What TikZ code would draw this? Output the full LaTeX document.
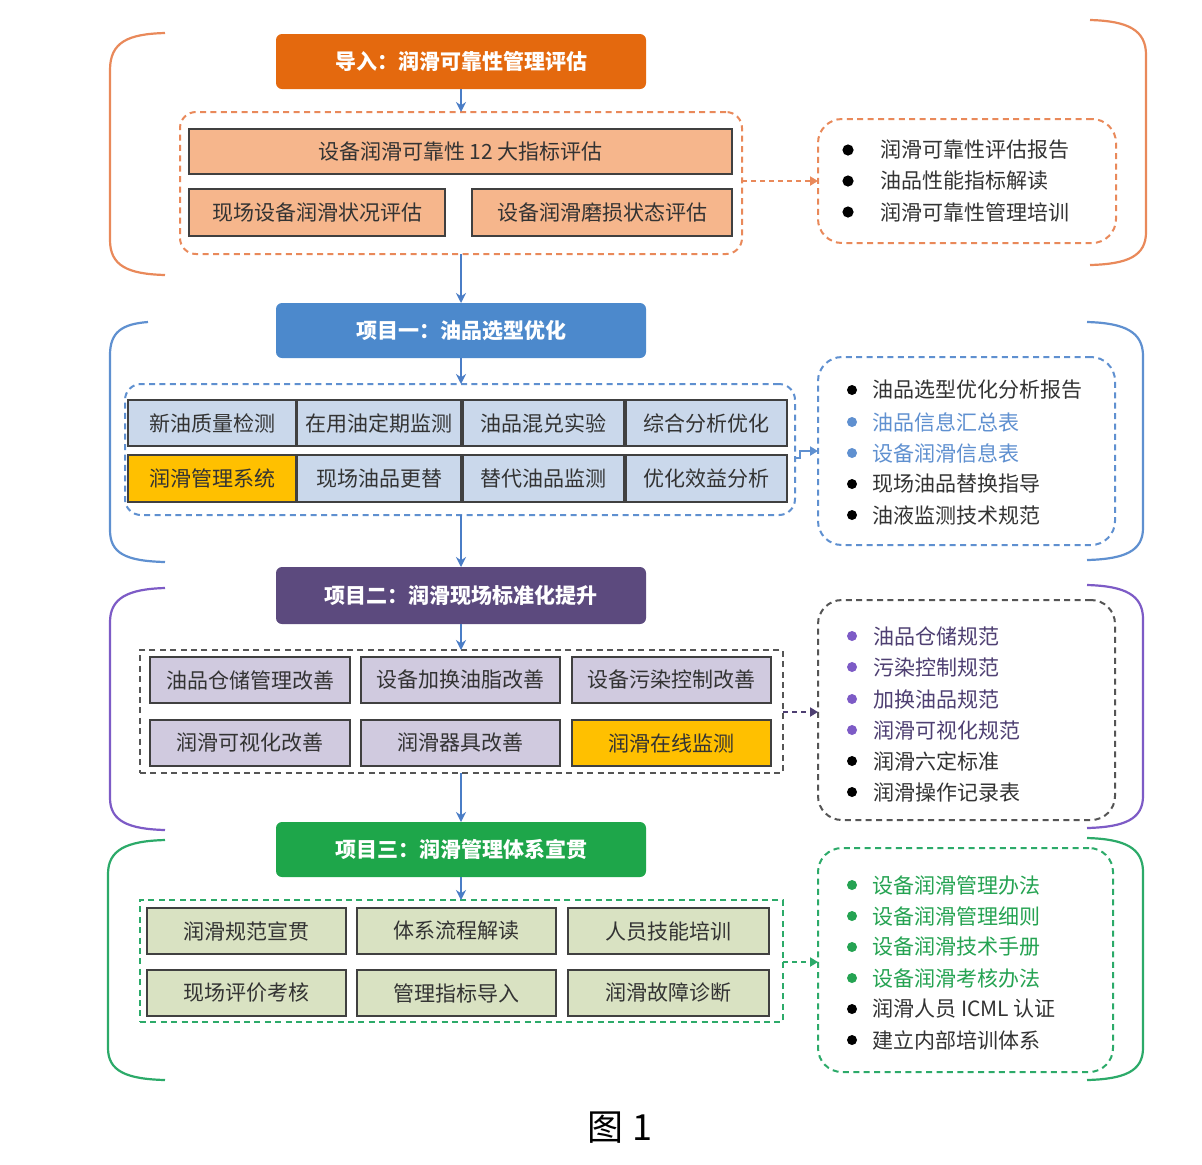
\documentclass[tikz,border=0pt]{standalone}
\usepackage{fontspec}
\setmainfont{Noto Sans CJK SC}
\usetikzlibrary{arrows.meta}
\definecolor{orT}{HTML}{E4690E}
\definecolor{orD}{HTML}{E9895A}
\definecolor{orF}{HTML}{F6B68C}
\definecolor{blT}{HTML}{4C89CC}
\definecolor{blD}{HTML}{5F90D0}
\definecolor{blF}{HTML}{CAD8EB}
\definecolor{puT}{HTML}{5C4A7E}
\definecolor{puB}{HTML}{7D5BC6}
\definecolor{puF}{HTML}{D0CADF}
\definecolor{puX}{HTML}{4E3F72}
\definecolor{grT}{HTML}{1EA64A}
\definecolor{grD}{HTML}{2CAA69}
\definecolor{grF}{HTML}{D9E2C2}
\definecolor{grX}{HTML}{25A352}
\definecolor{yel}{HTML}{FFC000}
\definecolor{arrB}{HTML}{4A7DC6}
\definecolor{bxL}{HTML}{404040}
\definecolor{txD}{HTML}{333333}
\definecolor{gyD}{HTML}{555555}
\newcommand\mybox[7]{\node[#6, minimum width={(#4-#2)*0.5pt}, minimum height={(#5-#3)*0.5pt}] (#1) at ({(#2+#4)/2},{(#3+#5)/2}) {#7};}
\begin{document}
\begin{tikzpicture}[x=0.5pt,y=-0.5pt,
  font=\fontsize{10.5}{12}\selectfont,
  title/.style={rounded corners=3pt, inner sep=0pt, outer sep=0pt, text=white, font=\fontsize{10.5}{12}\selectfont\bfseries},
  cont/.style={dash pattern=on 3pt off 2.2pt, line width=1pt, inner sep=0pt, outer sep=0pt},
  ibox/.style={draw=bxL, line width=0.8pt, inner sep=0pt, outer sep=0pt, text=txD},
  item/.style={anchor=west, inner sep=0pt, text=txD},
  brk/.style={line width=1.1pt},
  arr/.style={draw=arrB, line width=1.2pt, -{Stealth[length=5pt,width=5pt]}},
  darr/.style={line width=1pt, dash pattern=on 2.5pt off 2pt, -{Triangle[length=4pt,width=4.5pt]}}
]
\useasboundingbox (0,0) rectangle (1202,1164);
\fill[white] (0,0) rectangle (1202,1164);

% ---------- brackets ----------
\draw[brk, orD] (165,33) .. controls (128,34) and (110,42) .. (110,70) -- (110,240) .. controls (110,266) and (128,274) .. (165,275);
\draw[brk, orD] (1090,20) .. controls (1128,21) and (1146,30) .. (1146,55) -- (1146,232) .. controls (1146,256) and (1128,264) .. (1090,265);
\draw[brk, blD] (148,322) .. controls (122,324) and (110,332) .. (110,355) -- (110,530) .. controls (110,553) and (125,561) .. (165,562);
\draw[brk, blD] (1087,322) .. controls (1125,323) and (1143,332) .. (1143,356) -- (1143,528) .. controls (1143,551) and (1125,559) .. (1087,560);
\draw[brk, puB] (165,588) .. controls (128,589) and (110,598) .. (110,622) -- (110,798) .. controls (110,821) and (128,829) .. (165,830);
\draw[brk, puB] (1087,585) .. controls (1125,586) and (1143,595) .. (1143,619) -- (1143,796) .. controls (1143,819) and (1125,827) .. (1087,828);
\draw[brk, grD] (165,840) .. controls (126,841) and (108,850) .. (108,874) -- (108,1048) .. controls (108,1071) and (126,1079) .. (165,1080);
\draw[brk, grD] (1087,838) .. controls (1125,839) and (1143,848) .. (1143,872) -- (1143,1048) .. controls (1143,1071) and (1125,1079) .. (1087,1080);

% ---------- section 1 ----------
\mybox{t1}{276}{34}{646}{89}{title, fill=orT}{导入：润滑可靠性管理评估}
\mybox{c1}{180}{112}{742}{254}{cont, draw=orD, rounded corners=8pt}{}
\mybox{b11}{189}{129}{732}{174}{ibox, fill=orF}{设备润滑可靠性 12 大指标评估}
\mybox{b12}{189}{189}{445}{236}{ibox, fill=orF}{现场设备润滑状况评估}
\mybox{b13}{472}{189}{732}{236}{ibox, fill=orF}{设备润滑磨损状态评估}
\mybox{r1}{818}{119}{1116}{243}{cont, draw=orD, rounded corners=12pt}{}
\fill (848,150) circle (2.8pt); \node[item] (r1a) at (880,150) {润滑可靠性评估报告};
\fill (848,181) circle (2.8pt); \node[item] (r1b) at (880,181) {油品性能指标解读};
\fill (848,212) circle (2.8pt); \node[item] (r1c) at (880,212) {润滑可靠性管理培训};
\draw[darr, orD] (c1.east |- r1.west) -- (r1.west);

% ---------- section 2 ----------
\mybox{t2}{276}{303}{646}{358}{title, fill=blT}{项目一：油品选型优化}
\mybox{c2}{125}{384}{795}{515}{cont, draw=blD, rounded corners=8pt}{}
\mybox{b21}{128}{400}{296}{446}{ibox, fill=blF}{新油质量检测}
\mybox{b22}{297}{400}{461}{446}{ibox, fill=blF}{在用油定期监测}
\mybox{b23}{463}{400}{624}{446}{ibox, fill=blF}{油品混兑实验}
\mybox{b24}{626}{400}{787}{446}{ibox, fill=blF}{综合分析优化}
\mybox{b25}{128}{455}{296}{502}{ibox, fill=yel}{润滑管理系统}
\mybox{b26}{297}{455}{461}{502}{ibox, fill=blF}{现场油品更替}
\mybox{b27}{463}{455}{624}{502}{ibox, fill=blF}{替代油品监测}
\mybox{b28}{626}{455}{787}{502}{ibox, fill=blF}{优化效益分析}
\mybox{r2}{818}{357}{1115}{545}{cont, draw=blD, rounded corners=12pt}{}
\fill (852,390) circle (2.5pt); \node[item] (r2a) at (872,390) {油品选型优化分析报告};
\fill[blD] (852,422) circle (2.5pt); \node[item, text=blD] (r2b) at (872,422) {油品信息汇总表};
\fill[blD] (852,453) circle (2.5pt); \node[item, text=blD] (r2c) at (872,453) {设备润滑信息表};
\fill (852,484) circle (2.5pt); \node[item] (r2d) at (872,484) {现场油品替换指导};
\fill (852,515) circle (2.5pt); \node[item] (r2e) at (872,515) {油液监测技术规范};
\draw[blD, line width=1pt, -{Triangle[length=4pt,width=4.5pt]}] (c2.east |- 0,458) -- (800,458) -- (800,451) -- (r2.west |- 0,451);

% ---------- section 3 ----------
\mybox{t3}{276}{567}{646}{624}{title, fill=puT}{项目二：润滑现场标准化提升}
\mybox{c3}{140}{650}{783}{773}{cont, draw=gyD}{}
\mybox{b31}{150}{657}{350}{703}{ibox, fill=puF}{油品仓储管理改善}
\mybox{b32}{361}{657}{560}{703}{ibox, fill=puF}{设备加换油脂改善}
\mybox{b33}{572}{657}{771}{703}{ibox, fill=puF}{设备污染控制改善}
\mybox{b34}{150}{720}{350}{766}{ibox, fill=puF}{润滑可视化改善}
\mybox{b35}{361}{720}{560}{766}{ibox, fill=puF}{润滑器具改善}
\mybox{b36}{572}{720}{771}{766}{ibox, fill=yel}{润滑在线监测}
\mybox{r3}{818}{600}{1115}{820}{cont, draw=gyD, rounded corners=12pt}{}
\fill[puB] (852,636) circle (2.5pt); \node[item, text=puX] (r3a) at (873,636) {油品仓储规范};
\fill[puB] (852,667) circle (2.5pt); \node[item, text=puX] (r3b) at (873,667) {污染控制规范};
\fill[puB] (852,699) circle (2.5pt); \node[item, text=puX] (r3c) at (873,699) {加换油品规范};
\fill[puB] (852,730) circle (2.5pt); \node[item, text=puX] (r3d) at (873,730) {润滑可视化规范};
\fill (852,761) circle (2.5pt); \node[item] (r3e) at (873,761) {润滑六定标准};
\fill (852,792) circle (2.5pt); \node[item] (r3f) at (873,792) {润滑操作记录表};
\draw[darr, puX] (c3.east |- 0,712) -- (r3.west |- 0,712);

% ---------- section 4 ----------
\mybox{t4}{276}{822}{646}{877}{title, fill=grT}{项目三：润滑管理体系宣贯}
\mybox{c4}{140}{900}{783}{1022}{cont, draw=grD}{}
\mybox{b41}{147}{908}{346}{954}{ibox, fill=grF}{润滑规范宣贯}
\mybox{b42}{357}{908}{556}{954}{ibox, fill=grF}{体系流程解读}
\mybox{b43}{568}{908}{769}{954}{ibox, fill=grF}{人员技能培训}
\mybox{b44}{147}{970}{346}{1016}{ibox, fill=grF}{现场评价考核}
\mybox{b45}{357}{970}{556}{1016}{ibox, fill=grF}{管理指标导入}
\mybox{b46}{568}{970}{769}{1016}{ibox, fill=grF}{润滑故障诊断}
\mybox{r4}{818}{848}{1113}{1072}{cont, draw=grD, rounded corners=12pt}{}
\fill[grX] (852,885) circle (2.5pt); \node[item, text=grX] (r4a) at (872,885) {设备润滑管理办法};
\fill[grX] (852,916) circle (2.5pt); \node[item, text=grX] (r4b) at (872,916) {设备润滑管理细则};
\fill[grX] (852,947) circle (2.5pt); \node[item, text=grX] (r4c) at (872,947) {设备润滑技术手册};
\fill[grX] (852,978) circle (2.5pt); \node[item, text=grX] (r4d) at (872,978) {设备润滑考核办法};
\fill (852,1009) circle (2.5pt); \node[item] (r4e) at (872,1009) {润滑人员 ICML 认证};
\fill (852,1040) circle (2.5pt); \node[item] (r4f) at (872,1040) {建立内部培训体系};
\draw[darr, grD] (c4.east |- 0,962) -- (r4.west |- 0,962);

% ---------- vertical flow ----------
\draw[arr] (t1.south) -- (t1.south |- c1.north);
\draw[arr] (t2.north |- c1.south) -- (t2.north);
\draw[arr] (t2.south) -- (t2.south |- c2.north);
\draw[arr] (t3.north |- c2.south) -- (t3.north);
\draw[arr] (t3.south) -- (t3.south |- c3.north);
\draw[arr] (t4.north |- c3.south) -- (t4.north);
\draw[arr] (t4.south) -- (t4.south |- c4.north);

% ---------- caption ----------
\node[font=\fontsize{18}{20}\selectfont, inner sep=0pt] (cap) at (620,1128) {图 1};
\end{tikzpicture}
\end{document}
